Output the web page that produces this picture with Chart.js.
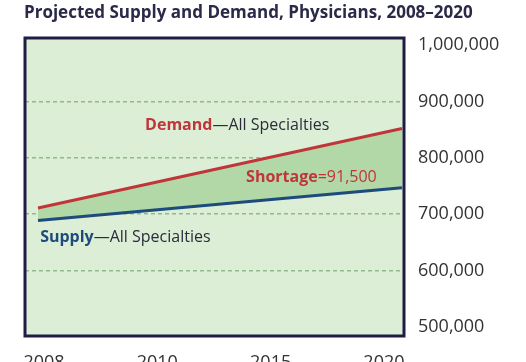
<!DOCTYPE html>
<html>
<head>
<meta charset="utf-8">
<script src="https://cdn.jsdelivr.net/npm/chart.js@4.4.1/dist/chart.umd.min.js"></script>
<style>
  html, body { margin: 0; padding: 0; background: #fff; overflow: hidden; }
  #wrap { position: relative; width: 526px; height: 380px; }
</style>
</head>
<body>
<div id="wrap"><canvas id="chart"></canvas></div>
<script>
// data
const years = [2008, 2020];
const demand = [711000, 852000];
const supply = [689000, 747000];
const xTickLabels = ['2008', '2010', '2015', '2020'];
const yTicks = [500000, 600000, 700000, 800000, 900000, 1000000];
const shortage = '91,500';
const titleText = 'Projected Supply and Demand, Physicians, 2008\u20132020';

const FONT = '"Open Sans", "Noto Sans", sans-serif';
const RED = '#c0353a';
const BLUE = '#1d4c7c';
const INK = '#2b2b3b';

// text pieces drawn inside the plot, anchored on data coordinates
const notes = [
  { x: 2011.53, y: 858000, parts: [['Demand', RED, 'bold'], ['\u2014All Specialties', INK, 'normal']] },
  { x: 2014.86, y: 765500, parts: [['Shortage', RED, 'bold'], ['=' + shortage, RED, 'normal']] },
  { x: 2008.07, y: 659000, parts: [['Supply', BLUE, 'bold'], ['\u2014All Specialties', INK, 'normal']] }
];

const framePlugin = {
  id: 'frame',
  beforeDraw(chart) {
    const { ctx, chartArea: a } = chart;
    ctx.save();
    ctx.fillStyle = '#dcefd6';
    ctx.fillRect(a.left, a.top, a.right - a.left, a.bottom - a.top);
    ctx.restore();
  },
  afterDraw(chart) {
    const { ctx, chartArea: a } = chart;
    const xs = chart.scales.xYear, ys = chart.scales.y;
    ctx.save();
    ctx.strokeStyle = '#211c45';
    ctx.lineWidth = 3;
    ctx.strokeRect(a.left, a.top, a.right - a.left, a.bottom - a.top);

    ctx.textBaseline = 'middle';
    ctx.textAlign = 'left';
    notes.forEach(n => {
      let px = xs.getPixelForValue(n.x);
      const py = ys.getPixelForValue(n.y);
      n.parts.forEach(([t, c, w]) => {
        ctx.font = w + ' 16px ' + FONT;
        ctx.fillStyle = c;
        ctx.fillText(t, px, py);
        px += ctx.measureText(t).width;
      });
    });

    ctx.font = 'bold 17px ' + FONT;
    ctx.fillStyle = '#2a2948';
    ctx.fillText(titleText, 24, 13);
    ctx.restore();
  }
};

new Chart(document.getElementById('chart'), {
  type: 'line',
  data: {
    datasets: [{
      label: 'Demand',
      data: years.map((yr, i) => ({ x: yr, y: demand[i] })),
      borderColor: RED,
      borderWidth: 3,
      pointRadius: 0,
      xAxisID: 'xYear',
      fill: false
    }, {
      label: 'Supply',
      data: years.map((yr, i) => ({ x: yr, y: supply[i] })),
      borderColor: BLUE,
      borderWidth: 3,
      pointRadius: 0,
      xAxisID: 'xYear',
      fill: { target: 0 },
      backgroundColor: '#b1d8a6'
    }]
  },
  options: {
    responsive: true,
    maintainAspectRatio: false,
    animation: false,
    layout: { padding: { left: 25, top: 38, right: 0, bottom: 0 } },
    plugins: { legend: { display: false }, tooltip: { enabled: false }, title: { display: false } },
    scales: {
      xYear: {
        type: 'linear',
        display: false,
        min: 2007.571,
        max: 2020.066
      },
      x: {
        type: 'linear',
        position: 'bottom',
        min: -0.1676,
        max: 3.177,
        grid: { display: false },
        border: { display: false },
        afterBuildTicks: s => { s.ticks = xTickLabels.map((t, i) => ({ value: i })); },
        ticks: {
          autoSkip: false,
          maxRotation: 0,
          padding: 8,
          color: '#333',
          font: { family: FONT, size: 18 },
          callback: v => xTickLabels[v]
        },
        afterFit: s => { s.height = 44; }
      },
      y: {
        position: 'right',
        min: 484000,
        max: 1012500,
        border: { display: false, dash: [4, 3] },
        grid: {
          drawTicks: false,
          lineWidth: 1.5,
          color: c => (c.tick && (c.tick.value === 500000 || c.tick.value === 1000000)) ? 'rgba(0,0,0,0)' : '#8fbb8c'
        },
        afterBuildTicks: s => { s.ticks = yTicks.map(v => ({ value: v })); },
        ticks: {
          autoSkip: false,
          padding: 14,
          color: '#333',
          font: { family: FONT, size: 18 },
          callback: v => v.toLocaleString('en-US')
        },
        afterFit: s => { s.width = 122; }
      }
    }
  },
  plugins: [framePlugin]
});
</script>
</body>
</html>
